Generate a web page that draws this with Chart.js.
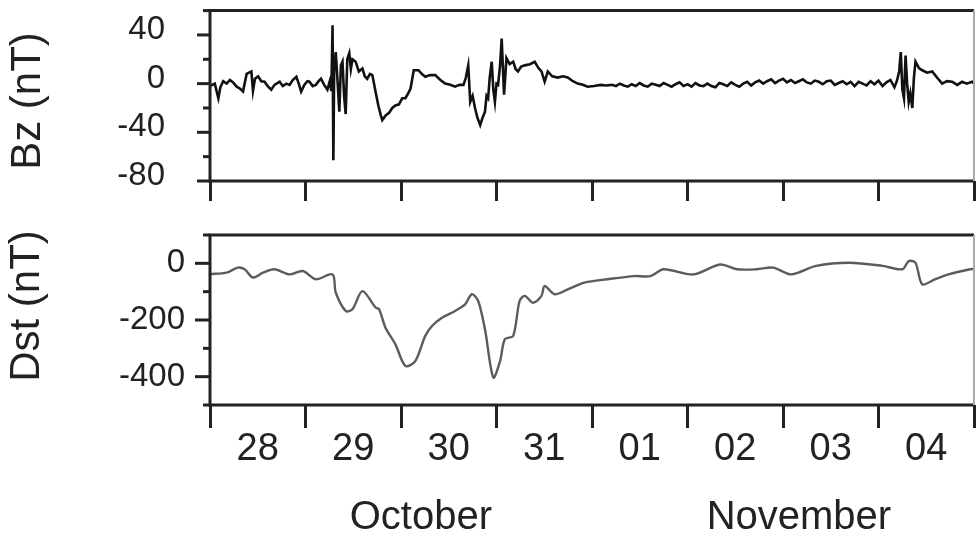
<!DOCTYPE html>
<html>
<head>
<meta charset="utf-8">
<script src="https://cdn.jsdelivr.net/npm/chart.js@4.4.1/dist/chart.umd.min.js"></script>
<style>
  html, body { margin: 0; padding: 0; background: #fff; }
  #wrap { position: relative; width: 976px; height: 541px; }
  canvas { position: absolute; left: 0; top: 0; }
</style>
</head>
<body>
<div id="wrap">
  <canvas id="dstChart" width="976" height="541"></canvas>
  <canvas id="bzChart" width="976" height="541"></canvas>
</div>
<script>
// hours counted from 28 October 00:00
const dayLabels = ['28', '29', '30', '31', '01', '02', '03', '04'];
const monthLabels = ['October', 'November'];
const bzTickLabels = [40, 0, -40, -80];
const dstTickLabels = [0, -200, -400];

const bzHours = [
    0, 1.2, 2.1, 2.6, 3.3, 4.2, 5, 5.8, 6.7, 7.5,
    8.3, 9.2, 10.4, 10.8, 11.3, 12.1, 12.9, 13.7, 14.5, 15.4,
    16.2, 17.5, 18.3, 19.2, 20, 20.8, 21.7, 22.3, 22.9, 23.7,
    24.5, 25, 25.8, 26.6, 27.3, 27.9, 28.7, 29.5, 30.1, 30.5,
    30.8, 31.0, 31.2, 31.6, 32.0, 32.5, 32.9, 33.3, 33.7, 34.1,
    34.5, 35.0, 35.4, 35.8, 36.6, 37.4, 38.3, 38.9, 39.5, 40.2,
    40.8, 41.6, 42.3, 42.9, 43.3, 44.2, 45, 45.8, 46.6, 47.5,
    48.3, 49.1, 49.8, 50.4, 51.2, 52.4, 53.2, 54.1, 55.3, 56.6,
    57.9, 59.1, 60.4, 61.6, 62.7, 63.7, 64.3, 64.9, 65.4, 66.0,
    66.6, 67.2, 67.9, 68.5, 69.1, 69.5, 69.9, 70.3, 70.8, 71.2,
    71.6, 72.0, 72.4, 72.9, 73.3, 73.9, 74.5, 75.3, 76.2, 76.8,
    77.4, 78.2, 79.1, 80.4, 81.6, 82.5, 83.3, 84.1, 84.9, 86,
    87.4, 88.7, 89.9, 91.2, 92.4, 93.7, 94.9, 96.5, 98.2, 99.5,
    101, 102, 103, 104, 105, 106, 107, 108, 109, 110, 111, 112,
    113, 114, 115, 116, 117, 118, 119, 120, 121, 122, 123, 124,
    125, 126, 127, 128, 129, 130, 131, 132, 133, 134, 135, 136,
    137, 138, 139, 140, 141, 142, 143, 144, 145, 146, 147, 148,
    149, 150, 151, 152, 153, 154, 155, 156, 157, 158, 159, 160,
    161, 162, 163, 164, 165, 166, 167, 168, 169, 170, 171, 172,
    172.6, 173.2, 173.6, 174.0, 174.4, 174.8, 175.2, 175.6, 176.0, 176.5,
    176.9, 177.3, 178.2, 179, 180.2, 181.5, 182.7, 184, 185.2, 186.5,
    187.8, 189, 190.2, 191.5, 192
];
const bzValues = [
    -2, 0, -12, -3, 2, 0, 3, 1, -2.5, -4,
    -6.5, 8, 10, -6, 4, 6, 2, 1.6, -2, -5,
    -1, 1.6, -2, 0, -1, 3, 5.7, 0, -6.5, -1,
    2, 1.6, -2, -1, 2, 4, -1, -5, 2, -6,
    48, -63, 10, 26, 5, -23, 15, 18, -10, -25,
    20, 25, 12, 20, 18, 10, 12.5, 6, 4, 8,
    7, -6.5, -18, -25.6, -30, -26, -24, -20, -18, -17,
    -12, -12, -8, -4, 11, 11, 8, 5.7, 7, 7,
    3, 0, -1, -2.5, -1, -1, 5, 15, -15, -10,
    -20, -28, -34, -28, -23, -10, -12, 5, 18, -5,
    -15, 0, -1, 15, 37, -9, 21, 16, 18, 12,
    10, 14, 15, 16, 18, 13, 10, 1.6, 10, 6,
    5, 6, 5, 2, 0, -1, -2.5, -2, -1, -1.5,
    -1, -2, 0, -1.5, -2.5, -0.5, -2, 0.5, -1.5, -2.5, 0, -1,
    -2, 0.5, -1, -2.5, -0.5, 1, -2, -0.5, -2.5, 0.5, -1.5, -2,
    0, -2, -3, 0.5, -0.5, -2, 1, -1, -2.5, 0, 1.5, -1.5,
    1, 2.5, 0, 2, 3.5, 0.5, 2.5, 4, 1, 3, 0.5, 2,
    3.5, 1, 0, 2.5, 1.5, -0.5, 2, 2.5, -1, 0.5, 2, -0.5,
    1.5, -2, 1.5, 0, -1.5, 2, -0.5, 2.5, -2, 1, 3, -3,
    2, 10, 26, -5, -12, 23, 0, -15, -8, -20,
    5, 18, 12.5, 11, 9, 10, 5, 0, 2, 1.6,
    -1, 1.5, 0, 1.6, 0
];

const dstHours = [
    0, 4.2, 7, 8.7, 10.8, 13.3, 16.2, 20, 23.3, 26.6,
    30.8, 31.6, 34.1, 35.8, 38.3, 41.6, 42.5, 44.1, 46.6, 49.1,
    51.6, 54.1, 55.8, 58.3, 61.6, 64.1, 65.8, 67.4, 69.1, 71.2,
    72.9, 74.1, 76.2, 77.8, 79.1, 81.2, 83.3, 84.1, 86.6, 89.9,
    94.1, 99.9, 106.6, 110.7, 114, 121.5, 128.2, 132.4, 137.4, 141.5,
    146.1, 152.3, 160.7, 169, 174, 175.6, 177.3, 179, 182.3, 185.6, 191, 192
];
const dstValues = [
    -38, -33, -15, -21, -50, -33, -21, -39, -27, -56,
    -39, -103, -168, -162, -98, -156, -162, -227, -286, -362,
    -345, -256, -221, -192, -168, -145, -109, -133, -233, -403,
    -345, -268, -256, -133, -115, -139, -115, -80, -109, -92,
    -68, -56, -45, -45, -21, -39, -4, -21, -21, -15,
    -39, -9, 2, -9, -21, 8, 2, -74, -56, -39, -21, -20
];

const font = '"Liberation Sans", Arial, sans-serif';
const ink = '#222';

Chart.defaults.color = ink;
Chart.defaults.animation = false;

// box round the plot, y tick marks and the rotated axis title
const framePlugin = {
    id: 'frame',
    afterDraw(chart, args, opts) {
        const { ctx, chartArea: a } = chart;
        const y = chart.scales.y;
        ctx.save();
        ctx.strokeStyle = ink;
        ctx.lineWidth = 3;
        y.ticks.forEach(t => {
            const py = y.getPixelForValue(t.value);
            const len = opts.major.includes(t.value) ? opts.majorLen : 7;
            ctx.beginPath();
            ctx.moveTo(a.left - len, py);
            ctx.lineTo(a.left, py);
            ctx.stroke();
        });
        ctx.beginPath();
        ctx.moveTo(a.right, a.top);
        ctx.lineTo(a.left, a.top);
        ctx.lineTo(a.left, a.bottom);
        ctx.lineTo(a.right, a.bottom);
        ctx.stroke();
        ctx.strokeStyle = '#aaa';
        ctx.lineWidth = 2;
        ctx.beginPath();
        ctx.moveTo(a.right, a.top);
        ctx.lineTo(a.right, a.bottom);
        ctx.stroke();

        ctx.translate(opts.titleX, opts.titleY);
        ctx.rotate(-Math.PI / 2);
        ctx.font = '42px ' + font;
        ctx.fillStyle = ink;
        ctx.textAlign = 'center';
        ctx.textBaseline = 'middle';
        ctx.fillText(opts.title, 0, 0);
        ctx.restore();
    }
};

function toPoints(hours, values) {
    return hours.map((h, i) => ({ x: h, y: values[i] }));
}

function dayTickAxis(len) {
    return {
        type: 'linear',
        position: 'bottom',
        weight: 0,
        min: 0,
        max: 192,
        ticks: { display: false, stepSize: 24 },
        grid: { drawOnChartArea: false, tickLength: len, tickWidth: 3, tickColor: ink },
        border: { display: false },
        afterFit(s) { s.height = len; }
    };
}

// tick marks are drawn by the frame plugin, the invisible grid ticks only push the labels left
function yAxis(min, max, step, labels, gap, offset) {
    return {
        type: 'linear',
        min, max,
        ticks: {
            stepSize: step,
            autoSkip: false,
            padding: 4,
            labelOffset: offset,
            font: { family: font, size: 33, lineHeight: 0.4 },
            callback: v => labels.includes(v) ? String(v) : ''
        },
        grid: { drawOnChartArea: false, drawTicks: true, tickLength: gap, tickColor: 'rgba(0,0,0,0)' },
        border: { display: false },
        afterFit(s) { s.width = 210; }
    };
}

new Chart(document.getElementById('bzChart'), {
    type: 'line',
    data: {
        datasets: [{
            label: 'Bz (nT)',
            data: toPoints(bzHours, bzValues),
            borderColor: '#111',
            borderWidth: 2.6,
            pointRadius: 0,
            tension: 0
        }]
    },
    options: {
        responsive: false,
        layout: { padding: { left: 0, top: 10, right: 2, bottom: 340 } },
        plugins: {
            legend: { display: false },
            tooltip: { enabled: false },
            frame: { title: 'Bz (nT)', titleX: 28, titleY: 101, major: bzTickLabels, majorLen: 13 }
        },
        scales: {
            x: dayTickAxis(20),
            y: yAxis(-80, 60, 20, bzTickLabels, 41, -5)
        }
    },
    plugins: [framePlugin]
});

new Chart(document.getElementById('dstChart'), {
    type: 'line',
    data: {
        datasets: [{
            label: 'Dst (nT)',
            data: toPoints(dstHours, dstValues),
            borderColor: '#5c5c5c',
            borderWidth: 2.4,
            pointRadius: 0,
            tension: 0.3
        }]
    },
    options: {
        responsive: false,
        layout: { padding: { left: 0, top: 235, right: 2, bottom: 0 } },
        plugins: {
            legend: { display: false },
            tooltip: { enabled: false },
            frame: { title: 'Dst (nT)', titleX: 27, titleY: 306, major: dstTickLabels, majorLen: 15 }
        },
        scales: {
            x: dayTickAxis(23),
            xd: {
                type: 'linear',
                position: 'bottom',
                weight: 1,
                min: 0,
                max: 192,
                afterBuildTicks(s) { s.ticks = dayLabels.map((d, i) => ({ value: i * 24 + 12 })); },
                ticks: {
                    autoSkip: false,
                    maxRotation: 0,
                    padding: 3,
                    font: { family: font, size: 38, lineHeight: 1 },
                    callback: (v, i) => dayLabels[i]
                },
                grid: { display: false, drawTicks: false },
                border: { display: false },
                afterFit(s) { s.height = 60; }
            },
            xm: {
                type: 'linear',
                position: 'bottom',
                weight: 2,
                min: 0,
                max: 192,
                afterBuildTicks(s) { s.ticks = [{ value: 53 }, { value: 148 }]; },
                ticks: {
                    autoSkip: false,
                    maxRotation: 0,
                    padding: 10,
                    font: { family: font, size: 40, lineHeight: 1 },
                    callback: (v, i) => monthLabels[i]
                },
                grid: { display: false, drawTicks: false },
                border: { display: false },
                afterFit(s) { s.height = 53; }
            },
            y: yAxis(-500, 100, 100, dstTickLabels, 21, 0)
        }
    },
    plugins: [framePlugin]
});
</script>
</body>
</html>
